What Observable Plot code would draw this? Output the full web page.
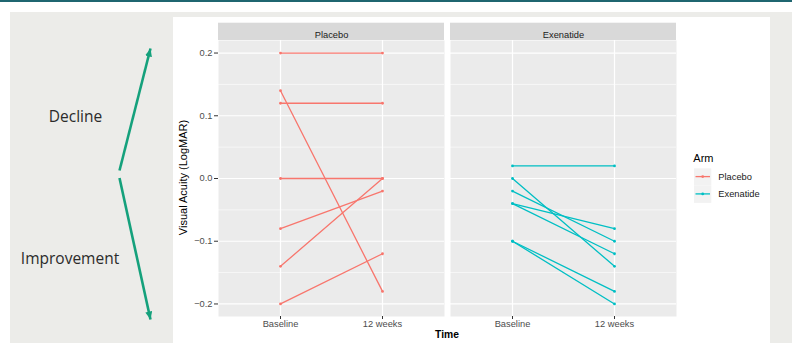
<!DOCTYPE html>
<html>
<head>
<meta charset="utf-8">
<script src="https://cdn.jsdelivr.net/npm/d3@7"></script>
<script src="https://cdn.jsdelivr.net/npm/@observablehq/plot@0.6"></script>
<style>
  html, body { margin: 0; padding: 0; }
  body { width: 792px; height: 343px; position: relative; overflow: hidden; background: #fff; }
  .abs { position: absolute; }
</style>
</head>
<body>
<div class="abs" style="left:0;top:0;width:792px;height:2px;background:#1F6670"></div>
<div class="abs" style="left:10px;top:12px;width:782px;height:331px;background:#ECECE9"></div>
<div class="abs" style="left:173px;top:17px;width:597px;height:326px;background:#fff"></div>
<div id="chart" class="abs" style="left:0;top:0"></div>
<script>
// ---- data ----
const arms = ["Placebo", "Exenatide"];
const times = ["Baseline", "12 weeks"];
const placeboBaseline = [0.20, 0.14, 0.12, 0.00, -0.08, -0.14, -0.20];
const placeboWeek12   = [0.20, -0.18, 0.12, 0.00, -0.02, 0.00, -0.12];
const exenatideBaseline = [0.02, 0.00, -0.02, -0.04, -0.04, -0.10, -0.10];
const exenatideWeek12   = [0.02, -0.14, -0.10, -0.08, -0.12, -0.18, -0.20];
const yMajorTicks = [-0.2, -0.1, 0.0, 0.1, 0.2];
const yMinorTicks = [-0.15, -0.05, 0.05, 0.15];
const yDomain = [-0.22, 0.22];
const armColors = ["#F8766D", "#00BFC4"];
const annotationLabels = ["Decline", "Improvement"];

// ---- build long table ----
const rows = [];
function addArm(arm, base, wk12) {
  base.forEach((v, i) => {
    rows.push({arm, id: arm + i, time: times[0], value: v});
    rows.push({arm, id: arm + i, time: times[1], value: wk12[i]});
  });
}
addArm(arms[0], placeboBaseline, placeboWeek12);
addArm(arms[1], exenatideBaseline, exenatideWeek12);

const font = "'Liberation Sans', Arial, sans-serif";

const plot = Plot.plot({
  width: 792,
  height: 343,
  marginLeft: 217,
  marginRight: 116,
  marginTop: 40,
  marginBottom: 27,
  style: {background: "transparent", fontFamily: font, overflow: "visible"},
  fx: {domain: arms, paddingInner: 0.026, paddingOuter: 0, axis: null, label: null},
  x: {type: "point", domain: times, padding: 0.6, label: null},
  y: {domain: yDomain, label: null},
  color: {domain: arms, range: armColors},
  marks: [
    Plot.frame({fill: "#EBEBEB"}),
    Plot.gridY(yMinorTicks, {stroke: "#fff", strokeOpacity: 1, strokeWidth: 0.6}),
    Plot.gridY(yMajorTicks, {stroke: "#fff", strokeOpacity: 1, strokeWidth: 1.2}),
    Plot.gridX(times, {stroke: "#fff", strokeOpacity: 1, strokeWidth: 1.2}),
    Plot.rect(arms, {fx: d => d, y1: yDomain[1], y2: yDomain[1], insetTop: -17.3, fill: "#D9D9D9"}),
    Plot.text(arms, {fx: d => d, text: d => d, frameAnchor: "top", dy: -8.7, fontSize: 9.3, fill: "#1A1A1A"}),
    Plot.line(rows, {fx: "arm", x: "time", y: "value", z: "id", stroke: "arm", strokeWidth: 1.3}),
    Plot.dot(rows, {fx: "arm", x: "time", y: "value", fill: "arm", r: 1.4}),
    Plot.axisY(yMajorTicks, {tickFormat: d3.format(".1f"), tickSize: 4, tickPadding: 2, fontSize: 9.3, fill: "#4D4D4D", stroke: "#333", label: null}),
    Plot.axisX(times, {tickSize: 3, tickPadding: 1, fontSize: 9.3, fill: "#4D4D4D", stroke: "#333", label: null})
  ]
});
document.getElementById("chart").appendChild(plot);

// ---- overlay: titles, legend, annotation ----
const svg = d3.select("body").append("svg")
  .attr("width", 792).attr("height", 343)
  .style("position", "absolute").style("left", "0px").style("top", "0px")
  .style("overflow", "visible");

function label(x, y, txt, o = {}) {
  const t = svg.append("text")
    .attr("x", x).attr("y", y)
    .attr("font-family", o.family || font)
    .attr("font-size", o.size || 9.3)
    .attr("font-weight", o.weight || "normal")
    .attr("fill", o.fill || "#1A1A1A")
    .attr("text-anchor", o.anchor || "start")
    .text(txt);
  if (o.rotate) t.attr("transform", `rotate(${o.rotate},${x},${y})`);
  return t;
}

// axis titles
label(187.3, 177.5, "Visual Acuity (LogMAR)", {size: 11, anchor: "middle", rotate: -90, fill: "#000"});
label(447, 338.3, "Time", {size: 10.3, weight: "bold", anchor: "middle", fill: "#000"});

// legend
label(693.3, 161.7, "Arm", {size: 11, fill: "#000"});
arms.forEach((a, i) => {
  const y0 = 168.3 + i * 17.3;
  svg.append("rect").attr("x", 694).attr("y", y0).attr("width", 17.3).attr("height", 17.3).attr("fill", "#F2F2F2");
  svg.append("line").attr("x1", 695.5).attr("x2", 710).attr("y1", y0 + 8.3).attr("y2", y0 + 8.3)
    .attr("stroke", armColors[i]).attr("stroke-width", 1.3);
  svg.append("circle").attr("cx", 702.7).attr("cy", y0 + 8.3).attr("r", 1.4).attr("fill", armColors[i]);
  label(718.3, y0 + 11.5, a, {size: 9.3, fill: "#1A1A1A"});
});

// left annotation
const green = "#15A17C";
svg.append("defs").append("marker")
  .attr("id", "ah").attr("markerUnits", "userSpaceOnUse")
  .attr("markerWidth", 9).attr("markerHeight", 8)
  .attr("refX", 8).attr("refY", 3.5).attr("orient", "auto")
  .append("path").attr("d", "M0,0 L8,3.5 L0,7 Z").attr("fill", green);
svg.append("line").attr("x1", 119.5).attr("y1", 170.5).attr("x2", 150.5).attr("y2", 48.5)
  .attr("stroke", green).attr("stroke-width", 2.6).attr("marker-end", "url(#ah)");
svg.append("line").attr("x1", 119.5).attr("y1", 178).attr("x2", 150.5).attr("y2", 319.5)
  .attr("stroke", green).attr("stroke-width", 2.6).attr("marker-end", "url(#ah)");
label(75.5, 121.7, annotationLabels[0], {size: 15.5, family: "'Open Sans', sans-serif", anchor: "middle", fill: "#2b2b2b"});
label(70, 264.3, annotationLabels[1], {size: 15.5, family: "'Open Sans', sans-serif", anchor: "middle", fill: "#2b2b2b"});
</script>
</body>
</html>
